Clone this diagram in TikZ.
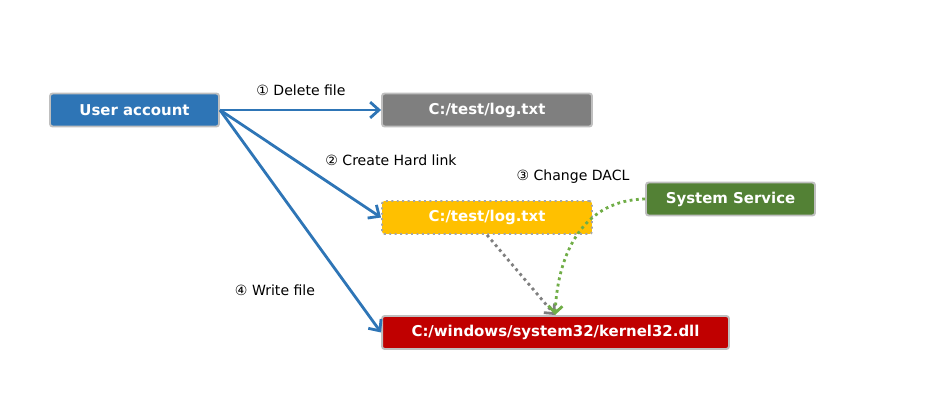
\documentclass[tikz,border=0pt]{standalone}
\usepackage{fontspec}
\setmainfont{DejaVu Sans}
\usetikzlibrary{arrows.meta}

\definecolor{boxblue}{HTML}{2E75B6}
\definecolor{boxgray}{HTML}{7F7F7F}
\definecolor{boxyellow}{HTML}{FFC000}
\definecolor{boxgreen}{HTML}{538135}
\definecolor{boxred}{HTML}{C00000}
\definecolor{rimgray}{HTML}{BFBFBF}
\definecolor{dotgreen}{HTML}{70AD47}

\tikzset{
  box/.style={draw=rimgray, line width=1.1pt, rounded corners=1.5pt, text=white,
    font=\fontsize{8.5}{10}\selectfont\bfseries, minimum height=0.66cm, inner sep=0pt},
  steplabel/.style={font=\fontsize{8}{10}\selectfont, inner sep=1pt},
  flow/.style={draw=boxblue, line width=1.6pt, -{Straight Barb[length=5pt,width=9pt]}},
  linkdots/.style={draw=boxgray, line width=1.6pt, dotted, -{Straight Barb[length=4pt,width=8pt]}},
  dacldots/.style={draw=dotgreen, line width=1.6pt, dotted, -{Straight Barb[length=4pt,width=8pt]}}
}

\begin{document}
\begin{tikzpicture}[x=0.02cm, y=-0.02cm]
    \useasboundingbox (0,0) rectangle (943,412);

    % Boxes
    \node[box, fill=boxblue, minimum width=3.38cm] (user) at (134.5,110) {User account};
    \node[box, fill=boxgray, minimum width=4.2cm] (oldlog) at (487,110) {C:/test/log.txt};
    \node[box, fill=boxyellow, minimum width=4.2cm, draw=boxgray!70, dotted] (hardlink) at (487,217.5) {C:/test/log.txt};
    \node[box, fill=boxgreen, minimum width=3.38cm] (service) at (730.5,199) {System Service};
    \node[box, fill=boxred, minimum width=6.94cm] (kernel) at (555.5,332.5) {C:/windows/system32/kernel32.dll};

    % Step labels
    \node[steplabel] (del) at (301,90) {① Delete file};
    \node[steplabel] (create) at (391,160) {② Create Hard link};
    \node[steplabel] (dacl) at (573,177) {③ Change DACL};
    \node[steplabel] (write) at (275,290) {④ Write file};

    % Arrows from the user
    \coordinate (src) at (user.east);
    \draw[flow] (src) -- (oldlog.west);
    \draw[flow] (src) -- (hardlink.west);
    \draw[flow] (src) -- (kernel.west);

    % Link and DACL change
    \coordinate (hit) at (555,315);
    \draw[linkdots] (hardlink.south) -- (hit);
    \draw[dacldots] (service.west) .. controls (585,200) and (558,250) .. (hit);
\end{tikzpicture}
\end{document}
